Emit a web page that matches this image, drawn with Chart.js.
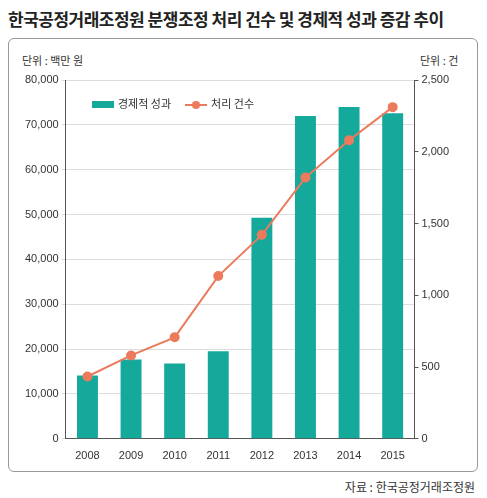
<!DOCTYPE html>
<html><head><meta charset="utf-8">
<script src="https://cdn.jsdelivr.net/npm/chart.js@4"></script>
<style>
body{margin:0;background:#fff;font-family:"Noto Sans CJK KR",sans-serif;}
#title{position:absolute;left:8px;top:6px;font-size:17px;font-weight:bold;color:#222;letter-spacing:-0.5px}
#frame{position:absolute;left:8px;top:38px;width:468px;height:432px;border:1px solid #999;border-radius:6px}
.unit{position:absolute;top:52px;font-size:11px;color:#333}
#wrap{position:absolute;left:22px;top:66px;width:444px;height:400px}
#legend{position:absolute;left:92px;top:95px;font-size:11px;color:#333;display:flex;gap:14px;align-items:center}
#src{position:absolute;right:12px;top:478px;font-size:12px;color:#333}
</style></head><body>
<div id="title">한국공정거래조정원 분쟁조정 처리 건수 및 경제적 성과 증감 추이</div>
<div id="frame"></div>
<div class="unit" style="left:22px">단위 : 백만 원</div>
<div class="unit" style="left:420px">단위 : 건</div>
<div id="wrap"><canvas id="c"></canvas></div>
<div id="legend">
 <span><span style="display:inline-block;width:22px;height:7px;background:#15a99b;margin-right:4px"></span>경제적 성과</span>
 <span><span style="display:inline-block;width:22px;height:2px;background:#ec7a5c;vertical-align:middle;margin-right:4px;position:relative"><span style="position:absolute;left:7px;top:-3px;width:8px;height:8px;border-radius:50%;background:#ec7a5c"></span></span>처리 건수</span>
</div>
<div id="src">자료 : 한국공정거래조정원</div>
<script>
const years = ["2008","2009","2010","2011","2012","2013","2014","2015"];
const economicResult = [14100, 17700, 16800, 19500, 49300, 72000, 74000, 72600];
const caseCount = [434, 581, 707, 1134, 1421, 1820, 2080, 2311];

const ctx = document.getElementById("c");
new Chart(ctx, {
  data: {
    labels: years,
    datasets: [
      {
        type: "line",
        label: "처리 건수",
        data: caseCount,
        yAxisID: "y2",
        borderColor: "#ec7a5c",
        backgroundColor: "#ec7a5c",
        borderWidth: 2,
        pointRadius: 4,
        tension: 0,
      },
      {
        type: "bar",
        label: "경제적 성과",
        data: economicResult,
        yAxisID: "y",
        backgroundColor: "#15a99b",
        barPercentage: 0.48,
        categoryPercentage: 1,
      },
    ],
  },
  options: {
    responsive: true,
    maintainAspectRatio: false,
    animation: false,
    layout: { padding: { top: 14, right: 14, bottom: 0, left: 0 } },
    plugins: { legend: { display: false }, tooltip: { enabled: false } },
    scales: {
      x: {
        grid: { display: false },
        border: { color: "#555" },
        ticks: { color: "#333", font: { size: 11 } },
      },
      y: {
        position: "left",
        min: 0, max: 80000,
        ticks: { stepSize: 10000, color: "#333", font: { size: 11 } },
        grid: { color: "#ddd", tickLength: 4 },
        border: { color: "#555" },
      },
      y2: {
        position: "right",
        min: 0, max: 2500,
        ticks: { stepSize: 500, color: "#333", font: { size: 11 } },
        grid: { drawOnChartArea: false, tickLength: 4, color: "#555" },
        border: { color: "#555" },
      },
    },
  },
});
</script>
</body></html>
